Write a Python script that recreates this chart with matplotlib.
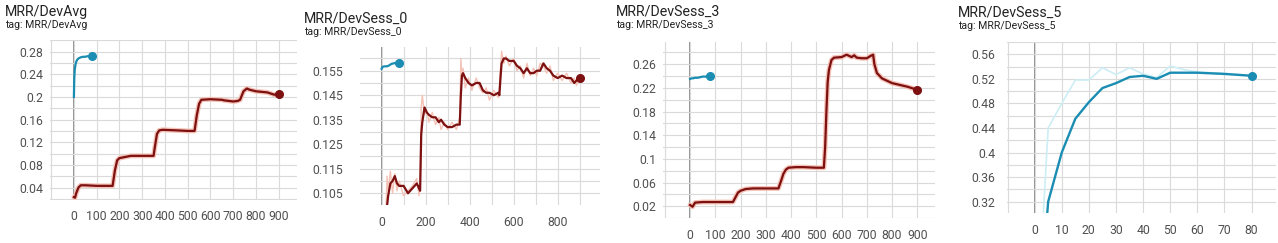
import matplotlib
matplotlib.use("Agg")
import matplotlib.pyplot as plt
from matplotlib.ticker import MultipleLocator

plt.rcParams['font.family'] = ['Roboto', 'DejaVu Sans']

RED = '#7d1010'
RED_RAW = '#f4c2b6'
BLUE = '#1b8db3'
BLUE_RAW = '#cdeef5'

# ---------------- Panel 1: MRR/DevAvg ----------------
p1_red_x = [0, 5, 10, 20, 30, 50, 100, 150, 170, 180, 190, 200, 250, 300, 350, 355, 365, 375, 390,
            450, 500, 530, 540, 550, 560, 600, 650, 660, 680, 700, 720, 730, 745, 760, 770, 800, 850, 880, 900]
p1_red_y = [0.023, 0.022, 0.030, 0.040, 0.044, 0.044, 0.043, 0.043, 0.043, 0.070, 0.088, 0.092, 0.096,
            0.096, 0.096, 0.110, 0.135, 0.141, 0.142, 0.141, 0.140, 0.140, 0.168, 0.188, 0.195, 0.196,
            0.195, 0.194, 0.193, 0.192, 0.193, 0.195, 0.210, 0.215, 0.213, 0.210, 0.208, 0.204, 0.205]
p1_blue_x = [0, 1, 2, 4, 7, 10, 15, 20, 30, 40, 50, 60, 70, 80]
p1_blue_y = [0.200, 0.222, 0.236, 0.249, 0.257, 0.262, 0.266, 0.268, 0.270, 0.271, 0.271, 0.272, 0.272, 0.272]

# ---------------- Panel 2: MRR/DevSess_0 ----------------
p2_red_x = [15, 20, 25, 30, 40, 50, 60, 70, 80, 100, 120, 140, 160, 170, 175, 180, 185, 195, 205, 215,
            230, 245, 260, 270, 285, 300, 320, 340, 355, 360, 365, 370, 380, 395, 410, 430, 445, 460,
            475, 490, 510, 530, 535, 540, 545, 555, 565, 580, 600, 615, 630, 645, 660, 675, 690, 705,
            720, 735, 750, 765, 780, 800, 820, 840, 860, 875, 885, 900]
p2_red_y = [0.090, 0.096, 0.100, 0.104, 0.109, 0.110, 0.112, 0.109, 0.108, 0.108, 0.105, 0.107, 0.109,
            0.107, 0.106, 0.129, 0.134, 0.140, 0.138, 0.137, 0.136, 0.136, 0.134, 0.135, 0.133, 0.132,
            0.132, 0.133, 0.133, 0.145, 0.153, 0.154, 0.152, 0.150, 0.149, 0.150, 0.150, 0.147, 0.146,
            0.146, 0.145, 0.146, 0.145, 0.152, 0.158, 0.160, 0.160, 0.159, 0.159, 0.157, 0.156, 0.154,
            0.156, 0.154, 0.154, 0.155, 0.155, 0.158, 0.156, 0.155, 0.153, 0.152, 0.153, 0.152, 0.152,
            0.150, 0.151, 0.152]
p2_raw_y = [0.090, 0.098, 0.112, 0.106, 0.114, 0.105, 0.113, 0.106, 0.110, 0.104, 0.106, 0.108, 0.111,
            0.104, 0.108, 0.140, 0.145, 0.137, 0.139, 0.134, 0.138, 0.133, 0.136, 0.131, 0.134, 0.131,
            0.134, 0.131, 0.136, 0.160, 0.152, 0.156, 0.148, 0.152, 0.147, 0.152, 0.148, 0.146, 0.148,
            0.143, 0.147, 0.144, 0.148, 0.156, 0.163, 0.158, 0.161, 0.157, 0.160, 0.155, 0.157, 0.152,
            0.158, 0.153, 0.156, 0.153, 0.158, 0.157, 0.154, 0.157, 0.151, 0.154, 0.151, 0.154, 0.150,
            0.152, 0.149, 0.153]
p2_blue_x = [0, 5, 15, 25, 35, 45, 55, 65, 80]
p2_blue_y = [0.1558, 0.1566, 0.1568, 0.1568, 0.1572, 0.1578, 0.1580, 0.1582, 0.1583]

# ---------------- Panel 3: MRR/DevSess_3 ----------------
p3_red_x = [0, 10, 20, 50, 100, 150, 170, 180, 190, 200, 220, 250, 300, 350, 360, 370, 380, 390, 420,
            450, 500, 530, 535, 540, 545, 550, 560, 570, 600, 620, 640, 650, 660, 680, 700, 715, 725,
            730, 740, 760, 780, 800, 830, 860, 890, 900]
p3_red_y = [0.022, 0.019, 0.026, 0.027, 0.027, 0.027, 0.027, 0.035, 0.043, 0.046, 0.049, 0.050, 0.050,
            0.050, 0.062, 0.075, 0.082, 0.085, 0.086, 0.086, 0.085, 0.085, 0.120, 0.180, 0.230, 0.250,
            0.267, 0.271, 0.272, 0.276, 0.272, 0.275, 0.271, 0.270, 0.270, 0.274, 0.276, 0.260, 0.245,
            0.236, 0.232, 0.228, 0.225, 0.222, 0.218, 0.217]
p3_blue_x = [0, 5, 10, 20, 30, 40, 50, 60, 70, 80]
p3_blue_y = [0.235, 0.236, 0.236, 0.237, 0.237, 0.238, 0.239, 0.239, 0.239, 0.240]

# ---------------- Panel 4: MRR/DevSess_5 ----------------
p4_x = [0, 5, 10, 15, 20, 25, 30, 35, 40, 45, 50, 55, 60, 70, 80]
p4_smooth = [0.05, 0.32, 0.40, 0.455, 0.482, 0.505, 0.513, 0.523, 0.525, 0.520, 0.530, 0.530, 0.530, 0.528, 0.525]
p4_raw = [0.05, 0.44, 0.48, 0.518, 0.518, 0.538, 0.527, 0.538, 0.528, 0.522, 0.541, 0.535, 0.531, 0.529, 0.525]

titles = ['MRR/DevAvg', 'MRR/DevSess_0', 'MRR/DevSess_3', 'MRR/DevSess_5']

W, H = 1278, 243
fig = plt.figure(figsize=(W / 100, H / 100), dpi=100)

def add_ax(l, r, t, b):
    return fig.add_axes([l / W, 1 - b / H, (r - l) / W, (b - t) / H])

def style(ax, xlim, ylim, xmaj, xgrid, ymaj, ygrid, ypad, xpad, yfmt):
    ax.set_xlim(*xlim)
    ax.set_ylim(*ylim)
    ax.xaxis.set_major_locator(MultipleLocator(xmaj))
    ax.xaxis.set_minor_locator(MultipleLocator(xgrid))
    ax.yaxis.set_major_locator(MultipleLocator(ymaj))
    ax.yaxis.set_minor_locator(MultipleLocator(ygrid))
    ax.grid(True, which='both', color='#dadada', linewidth=0.8, zorder=0)
    for s in ax.spines.values():
        s.set_visible(False)
    ax.tick_params(which='both', length=0, labelsize=8.8, labelcolor='#505050')
    ax.tick_params(axis='y', pad=ypad)
    ax.tick_params(axis='x', pad=xpad)
    ax.yaxis.set_major_formatter(plt.FuncFormatter(yfmt))
    ax.xaxis.set_major_formatter(plt.FuncFormatter(lambda v, p: '%d' % round(v)))
    ax.set_xticks([t for t in ax.get_xticks() if xlim[0] <= t <= xlim[1] and t >= 0])
    ax.axvline(0, color='#8a8a8a', linewidth=1.3, zorder=1)

def fmt(v):
    s = ('%.3f' % v).rstrip('0').rstrip('.')
    return s

def add_title(x, y, name):
    fig.text(x / W, 1 - y / H, name, fontsize=10.2, color='#222222', va='top', ha='left')
    fig.text(x / W, 1 - (y + 15) / H, 'tag: ' + name, fontsize=7.6, color='#222222', va='top', ha='left')

# Panel 1
ax1 = add_ax(50, 297, 40, 200)
style(ax1, (-105, 980), (0.018, 0.3006), 100, 100, 0.04, 0.02, 5, 7, lambda v, p: fmt(v))
ax1.set_yticks([0.04, 0.08, 0.12, 0.16, 0.2, 0.24, 0.28])
ax1.plot(p1_red_x, p1_red_y, color=RED_RAW, linewidth=3.5, zorder=2, solid_capstyle='round')
ax1.plot(p1_red_x, p1_red_y, color=RED, linewidth=1.6, zorder=3)
ax1.plot(p1_red_x[-1], p1_red_y[-1], 'o', color=RED, markersize=5.5, zorder=4)
ax1.plot(p1_blue_x, p1_blue_y, color=BLUE, linewidth=1.6, zorder=3)
ax1.plot(p1_blue_x[-1], p1_blue_y[-1], 'o', color=BLUE, markersize=5.5, zorder=4)
add_title(5, 5, titles[0])

# Panel 2
ax2 = add_ax(360, 600, 46.7, 205)
style(ax2, (-98, 992), (0.1002, 0.1648), 200, 100, 0.01, 0.005, 12, 8, lambda v, p: '%.3f' % v)
ax2.set_yticks([0.105, 0.115, 0.125, 0.135, 0.145, 0.155])
ax2.plot(p2_red_x, p2_raw_y, color=RED_RAW, linewidth=1.0, zorder=2)
ax2.plot(p2_red_x, p2_red_y, color=RED, linewidth=1.6, zorder=3)
ax2.plot(p2_red_x[-1], p2_red_y[-1], 'o', color=RED, markersize=5.5, zorder=4)
ax2.plot(p2_blue_x, p2_blue_y, color=BLUE, linewidth=1.6, zorder=3)
ax2.plot(p2_blue_x[-1], p2_blue_y[-1], 'o', color=BLUE, markersize=5.5, zorder=4)
add_title(304, 12, titles[1])

# Panel 3
ax3 = add_ax(663, 935, 41.7, 218)
style(ax3, (-107, 970), (0.0, 0.298), 100, 100, 0.04, 0.02, 5, 8, lambda v, p: fmt(v))
ax3.set_yticks([0.02, 0.06, 0.1, 0.14, 0.18, 0.22, 0.26])
ax3.plot(p3_red_x, p3_red_y, color=RED_RAW, linewidth=3.5, zorder=2, solid_capstyle='round')
ax3.plot(p3_red_x, p3_red_y, color=RED, linewidth=1.6, zorder=3)
ax3.plot(p3_red_x[-1], p3_red_y[-1], 'o', color=RED, markersize=5.5, zorder=4)
ax3.plot(p3_blue_x, p3_blue_y, color=BLUE, linewidth=1.6, zorder=3)
ax3.plot(p3_blue_x[-1], p3_blue_y[-1], 'o', color=BLUE, markersize=5.5, zorder=4)
add_title(616, 5, titles[2])

# Panel 4
ax4 = add_ax(1006.7, 1276, 41.7, 213.3)
style(ax4, (-10.3, 89), (0.301, 0.5805), 10, 10, 0.04, 0.02, 8, 8, lambda v, p: fmt(v))
ax4.set_yticks([0.32, 0.36, 0.4, 0.44, 0.48, 0.52, 0.56])
ax4.plot(p4_x, p4_raw, color=BLUE_RAW, linewidth=1.2, zorder=2)
ax4.plot(p4_x, p4_smooth, color=BLUE, linewidth=1.7, zorder=3)
ax4.plot(p4_x[-1], p4_smooth[-1], 'o', color=BLUE, markersize=5.5, zorder=4)
add_title(958, 6, titles[3])

fig.savefig('out.png', dpi=100)
